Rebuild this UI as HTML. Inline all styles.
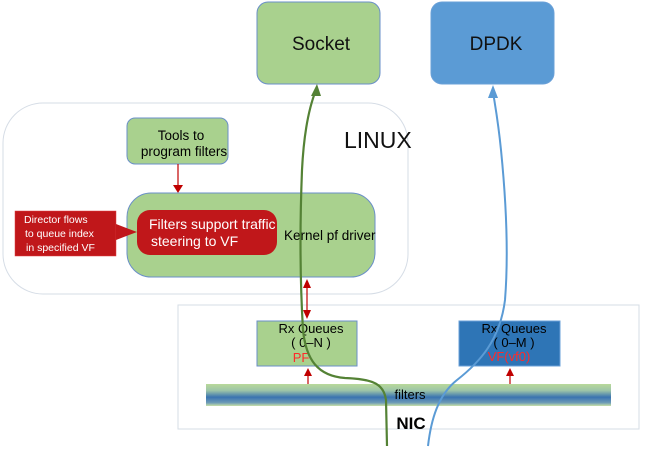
<!DOCTYPE html>
<html><head><meta charset="utf-8"><style>
body{margin:0;background:#fff;}
svg text{font-family:"Liberation Sans",sans-serif;}
</style></head><body>
<svg width="649" height="457" viewBox="0 0 649 457" xmlns="http://www.w3.org/2000/svg">
<defs>
<linearGradient id="fg" x1="0" y1="0" x2="0" y2="1">
<stop offset="0" stop-color="#b9d99a"/>
<stop offset="0.3" stop-color="#9cc4a8"/>
<stop offset="0.6" stop-color="#3a74b0"/>
<stop offset="0.85" stop-color="#6d9bb6"/>
<stop offset="1" stop-color="#c9e0a8"/>
</linearGradient>
</defs>
<rect x="257" y="2" width="123" height="82" rx="11" fill="#a9d18e" stroke="#6a8fc8" stroke-width="1"/>
<text x="321" y="50" font-size="19" text-anchor="middle" fill="#111">Socket</text>
<rect x="431" y="2" width="123" height="82" rx="11" fill="#5b9bd5" stroke="#6aa0d8"/>
<text x="496" y="50" font-size="19" text-anchor="middle" fill="#111">DPDK</text>
<rect x="3" y="103" width="405" height="191" rx="40" fill="#fff" stroke="#d6dde6"/>
<text x="344" y="148" font-size="23" fill="#111">LINUX</text>
<rect x="127" y="118" width="101" height="46" rx="8" fill="#a9d18e" stroke="#6a8fc8"/>
<text x="181" y="140" font-size="13.5" text-anchor="middle">Tools to</text>
<text x="184" y="156" font-size="13.5" text-anchor="middle">program filters</text>
<line x1="178" y1="164" x2="178" y2="186" stroke="#c00000" stroke-width="1.2"/>
<polygon points="173,185 183,185 178,193" fill="#c00000"/>
<rect x="127" y="193" width="248" height="84" rx="24" fill="#a9d18e" stroke="#6a8fc8"/>
<text x="284" y="240" font-size="13.5">Kernel pf driver</text>
<rect x="137" y="210" width="140" height="45" rx="13" fill="#c0171a"/>
<text x="149" y="229" font-size="14" fill="#fff">Filters support traffic</text>
<text x="151" y="246" font-size="14" fill="#fff">steering to VF</text>
<rect x="15" y="211" width="101" height="45" fill="#c0171a" stroke="#e04040" stroke-width="0.5"/>
<polygon points="116,224 137,232 116,240" fill="#c0171a"/>
<text x="24" y="223" font-size="10.5" fill="#fff">Director flows</text>
<text x="25" y="237" font-size="10.5" fill="#fff">to queue index</text>
<text x="26" y="251" font-size="10.5" fill="#fff">in specified VF</text>
<rect x="178" y="305" width="461" height="124" fill="#fff" stroke="#d6dde6"/>
<rect x="257" y="321" width="100" height="45" fill="#a9d18e" stroke="#6a8fc8"/>
<text x="311" y="333" font-size="13" text-anchor="middle">Rx Queues</text>
<text x="311" y="347" font-size="13" text-anchor="middle">( 0–N )</text>
<text x="301" y="362" font-size="13" text-anchor="middle" fill="#ff2a2a">PF</text>
<rect x="459" y="321" width="101" height="45" fill="#2e75b6" stroke="#6aa0d8"/>
<text x="514" y="333" font-size="13" text-anchor="middle">Rx Queues</text>
<text x="514" y="347" font-size="13" text-anchor="middle">( 0–M )</text>
<text x="509" y="361" font-size="13" text-anchor="middle" fill="#ff2a2a">VF(vf0)</text>
<rect x="206" y="384" width="405" height="22" fill="url(#fg)"/>
<text x="410" y="399" font-size="13" text-anchor="middle">filters</text>
<text x="411" y="429" font-size="17" font-weight="bold" text-anchor="middle">NIC</text>
<line x1="308" y1="384" x2="308" y2="375" stroke="#c00000" stroke-width="1.2"/>
<polygon points="304,376 312,376 308,368" fill="#c00000"/>
<line x1="510" y1="384" x2="510" y2="375" stroke="#c00000" stroke-width="1.2"/>
<polygon points="506,376 514,376 510,368" fill="#c00000"/>
<line x1="307" y1="285" x2="307" y2="313" stroke="#c00000" stroke-width="1.2"/>
<polygon points="303,288 311,288 307,279" fill="#c00000"/>
<polygon points="303,310 311,310 307,319" fill="#c00000"/>
<path d="M387,446 L386,400 C384,385 375,379 345,378 C318,376 306,360 303,330 C300,280 300,220 302,170 C304,130 310,105 316,90" fill="none" stroke="#548235" stroke-width="2.2"/>
<polygon points="311,96 321,96 317,84" fill="#548235"/>
<path d="M428,446 C431,420 438,395 457,380 C480,362 500,340 505,300 C509,250 505,190 501,150 C498,120 495,105 493,92" fill="none" stroke="#5b9bd5" stroke-width="2"/>
<polygon points="488,98 498,98 493,85" fill="#5b9bd5"/>
</svg>
</body></html>
